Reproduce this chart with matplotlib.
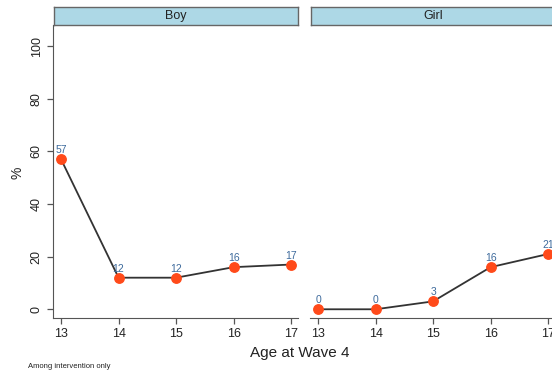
import matplotlib
matplotlib.use("Agg")
import matplotlib.pyplot as plt

plt.rcParams['font.family'] = ['Liberation Sans', 'DejaVu Sans']

ages = [13, 14, 15, 16, 17]
panels = ["Boy", "Girl"]
boy_pct = [57, 12, 12, 16, 17]
girl_pct = [0, 0, 3, 16, 21]
series = [boy_pct, girl_pct]
yticks = [0, 20, 40, 60, 80, 100]

W, H = 552, 375
fig = plt.figure(figsize=(W / 100, H / 100), dpi=100)

# panel extents in pixels: (left, right)
panel_px = [(53, 298), (310, 555)]
plot_top, plot_bottom = 25, 317.7
strip_top, strip_bottom = 7, 24.5

spine_col = "#555555"
marker_col = "#FF4A1A"
line_col = "#333333"
label_col = "#3D6A9C"

for i, (name, vals) in enumerate(zip(panels, series)):
    l, r = panel_px[i]
    ax = fig.add_axes([l / W, 1 - plot_bottom / H, (r - l) / W, (plot_bottom - plot_top) / H])
    ax.plot(ages, vals, color=line_col, lw=1.3, zorder=2)
    ax.plot(ages, vals, 'o', color=marker_col, ms=6.8, mec=marker_col, zorder=3)
    for x, v in zip(ages, vals):
        ax.annotate(f"{v}", (x, v), xytext=(0, 2.8), textcoords="offset points",
                    ha="center", va="bottom", fontsize=7.5, color=label_col)
    ax.set_xlim(12.86, 17.12)
    ax.set_ylim(-3.2, 108)
    ax.set_xticks(ages)
    ax.set_xticklabels([str(a) for a in ages], fontsize=9)
    for s in ["top", "right"]:
        ax.spines[s].set_visible(False)
    ax.spines["bottom"].set_color(spine_col)
    ax.spines["left"].set_color(spine_col)
    ax.tick_params(axis="both", colors=spine_col, labelcolor="#222222", length=4.5, width=0.9)
    ax.tick_params(axis="x", pad=3)
    if i == 0:
        ax.set_yticks(yticks)
        ax.set_yticklabels([str(t) for t in yticks], fontsize=9, rotation=90, va="center")
        ax.tick_params(axis="y", pad=3)
    else:
        ax.spines["left"].set_visible(False)
        ax.set_yticks([])
    ax.set_facecolor("white")

    # facet strip
    sx = fig.add_axes([(l + 1) / W, 1 - strip_bottom / H, (r - l - 1) / W, (strip_bottom - strip_top) / H])
    sx.set_facecolor("#ADD8E6")
    sx.set_xticks([])
    sx.set_yticks([])
    for s in sx.spines.values():
        s.set_color("#666666")
        s.set_linewidth(1.0)
    sx.text(0.5, 0.5, name, transform=sx.transAxes, ha="center", va="center",
            fontsize=9, color="#222222")

fig.text(18 / W, 1 - 173 / H, "%", rotation=90, ha="center", va="center", fontsize=10, color="#222222")
fig.text(300 / W, 1 - 352.5 / H, "Age at Wave 4", ha="center", va="center", fontsize=11, color="#222222")
fig.text(28 / W, 1 - 366.5 / H, "Among intervention only", ha="left", va="center", fontsize=5.5, color="#222222")

fig.savefig("out.png", dpi=100, facecolor="white")
